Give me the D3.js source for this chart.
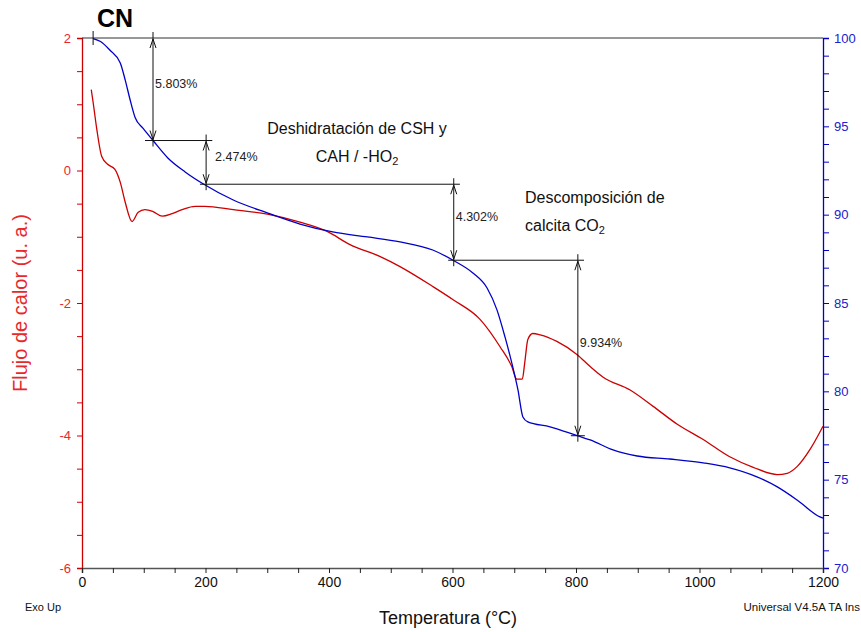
<!DOCTYPE html>
<html>
<head>
<meta charset="utf-8">
<script src="https://cdn.jsdelivr.net/npm/d3@7"></script>
<style>
  body { margin: 0; background: #fff; }
  svg text { font-family: "Liberation Sans", Arial, sans-serif; }
</style>
</head>
<body>
<svg id="chart" width="861" height="632"></svg>
<script>
// TGA curve (mass %, right axis)
const tgaTemp = [18, 30, 45, 62, 70, 78, 86, 99, 115, 139, 167, 196, 245, 300, 353, 406, 462, 515, 568, 601,
    633, 656, 672, 685, 696, 706, 714, 722, 758, 802, 823, 860, 899, 952, 1006, 1049, 1093, 1126, 1158, 1195, 1200];
const tgaMass = [99.97, 99.8, 99.32, 98.59, 97.62, 96.49, 95.5, 94.88, 94.2, 93.21, 92.42, 91.75, 90.83, 90.10, 89.47, 89.02, 88.74, 88.46, 88.00, 87.42,
    86.70, 85.85, 84.61, 83.08, 81.61, 80.08, 78.55, 78.27, 77.99, 77.49, 77.25, 76.68, 76.34, 76.17, 75.95, 75.67, 75.16, 74.59, 73.85, 72.89, 72.82];

// DSC curve (heat flow, left axis)
const dscTemp = [15, 18, 24, 32, 42, 53, 62, 70, 81, 91, 102, 115, 130, 146, 162, 183, 199, 245, 300, 353, 397, 434, 483, 515,
    568, 601, 645, 677, 696, 704, 713, 717, 722, 730, 742, 769, 802, 823, 844, 887, 925, 964, 1006, 1049, 1087, 1126, 1142, 1158, 1179, 1200];
const dscFlow = [1.22, 1.03, 0.62, 0.21, 0.09, 0.02, -0.18, -0.48, -0.77, -0.63, -0.59, -0.62, -0.69, -0.65, -0.59, -0.54, -0.54, -0.59, -0.66, -0.78, -0.92, -1.12, -1.30, -1.45,
    -1.75, -1.95, -2.25, -2.66, -2.96, -3.15, -3.15, -2.90, -2.55, -2.46, -2.48, -2.58, -2.78, -2.96, -3.12, -3.31, -3.56, -3.83, -4.06, -4.32, -4.48, -4.59, -4.57, -4.47, -4.21, -3.86];

// step transitions (mass loss)
const stepTemp = [115, 201, 602, 803];
const stepTop = [100, 94.197, 91.723, 87.421];
const stepLoss = [5.803, 2.474, 4.302, 9.934];
const stepLineFrom = [18, 102, 191, 593];
const stepLineTo = [1200, 211, 612, 813];
const stepLabelDx = [2, 9, 2, 2];

const xTicks = d3.range(0, 1201, 50);
const flowTicks = d3.range(-6, 2.01, 0.5);
const massTicks = d3.range(70, 100.01, 1);

const red = "#cc0000", redText = "#e8282b", blue = "#0000c8", blueText = "#2020d0";

let svg = d3.select("#chart");

let x = d3.scaleLinear().domain([0, 1200]).range([82, 823]);
let yFlow = d3.scaleLinear().domain([-6, 2]).range([568, 38]);
let yMass = d3.scaleLinear().domain([70, 100]).range([568, 38]);

// axes
let leftAxis = svg.append("g")
    .attr("transform", "translate(82,0)")
    .call(d3.axisLeft(yFlow).tickValues(flowTicks).tickSize(5).tickPadding(6)
        .tickFormat(d => Number.isInteger(d / 2) ? String(d) : ""));
leftAxis.select(".domain").attr("stroke", red).attr("stroke-width", 1.3);
leftAxis.selectAll(".tick line").attr("stroke", red);
leftAxis.selectAll("text").attr("fill", redText).attr("font-size", 13).style("font-family", "Liberation Sans, Arial, sans-serif");

let rightAxis = svg.append("g")
    .attr("transform", "translate(823,0)")
    .call(d3.axisRight(yMass).tickValues(massTicks).tickSize(6).tickPadding(5)
        .tickFormat(d => d % 5 === 0 ? String(d) : ""));
rightAxis.select(".domain").attr("stroke", blue).attr("stroke-width", 1.3);
rightAxis.selectAll(".tick line").attr("stroke", blue);
rightAxis.selectAll("text").attr("fill", blueText).attr("font-size", 13).style("font-family", "Liberation Sans, Arial, sans-serif");

let bottomAxis = svg.append("g")
    .attr("transform", "translate(0,568)")
    .call(d3.axisBottom(x).tickValues(xTicks).tickSize(5).tickPadding(4)
        .tickFormat(d => d % 200 === 0 ? String(d) : ""));
bottomAxis.select(".domain").attr("stroke", "#555").attr("stroke-width", 1.6);
bottomAxis.selectAll(".tick line").attr("stroke", "#222");
bottomAxis.selectAll("text").attr("fill", "#111").attr("font-size", 14).style("font-family", "Liberation Sans, Arial, sans-serif");

// top frame line
svg.append("line")
    .attr("x1", x(0)).attr("x2", x(1200))
    .attr("y1", yMass(100)).attr("y2", yMass(100))
    .attr("stroke", "#333").attr("stroke-width", 1.2);

// curves
let dscLine = d3.line().x(d => x(d[0])).y(d => yFlow(d[1])).curve(d3.curveMonotoneX);
let tgaLine = d3.line().x(d => x(d[0])).y(d => yMass(d[1])).curve(d3.curveMonotoneX);

svg.append("path")
    .datum(d3.zip(dscTemp, dscFlow))
    .attr("fill", "none").attr("stroke", red).attr("stroke-width", 1.3)
    .attr("d", dscLine);

svg.append("path")
    .datum(d3.zip(tgaTemp, tgaMass))
    .attr("fill", "none").attr("stroke", blue).attr("stroke-width", 1.3)
    .attr("d", tgaLine);

// step annotations
let steps = stepTemp.map((t, i) => ({
    t: t, top: stepTop[i], bottom: stepTop[i] - stepLoss[i], loss: stepLoss[i],
    from: stepLineFrom[i], to: stepLineTo[i], dx: stepLabelDx[i]
}));

let ann = svg.append("g").attr("stroke", "#111").attr("stroke-width", 1).attr("fill", "none");

// start marker
ann.append("line")
    .attr("x1", x(tgaTemp[0])).attr("x2", x(tgaTemp[0]))
    .attr("y1", yMass(100) - 7).attr("y2", yMass(100) + 7);

steps.forEach((s, i) => {
    if (i > 0) {
        ann.append("line")
            .attr("x1", x(s.from)).attr("x2", x(s.to))
            .attr("y1", yMass(s.top)).attr("y2", yMass(s.top));
    }
    let xs = x(s.t), y0 = yMass(s.top), y1 = yMass(s.bottom);
    ann.append("line").attr("x1", xs).attr("x2", xs).attr("y1", y0 - 6).attr("y2", y1 + 6);
    ann.append("path").attr("d", `M${xs - 3},${y0 + 10}L${xs},${y0 + 1}L${xs + 3},${y0 + 10}`);
    ann.append("path").attr("d", `M${xs - 3},${y1 - 10}L${xs},${y1 - 1}L${xs + 3},${y1 - 10}`);
    svg.append("text")
        .attr("x", xs + s.dx).attr("y", (y0 + y1) / 2 - 1)
        .attr("font-size", 12.5).attr("fill", "#222")
        .text(s.loss.toFixed(3) + "%");
});

// last step bottom bar
let last = steps[steps.length - 1];
ann.append("line")
    .attr("x1", x(last.t) - 7).attr("x2", x(last.t) + 7)
    .attr("y1", yMass(last.bottom)).attr("y2", yMass(last.bottom));

// descriptive notes
svg.append("text").attr("x", 357).attr("y", 134).attr("text-anchor", "middle")
    .attr("font-size", 16).attr("fill", "#111").text("Deshidratación de CSH y");
let t2 = svg.append("text").attr("x", 357).attr("y", 162).attr("text-anchor", "middle")
    .attr("font-size", 16).attr("fill", "#111");
t2.append("tspan").text("CAH / -HO");
t2.append("tspan").attr("font-size", 11).attr("dy", 3).text("2");

svg.append("text").attr("x", 525).attr("y", 203)
    .attr("font-size", 16).attr("fill", "#111").text("Descomposición de");
let t4 = svg.append("text").attr("x", 525).attr("y", 231)
    .attr("font-size", 16).attr("fill", "#111");
t4.append("tspan").text("calcita CO");
t4.append("tspan").attr("font-size", 11).attr("dy", 3).text("2");

// titles
svg.append("text").attr("x", 97).attr("y", 27)
    .attr("font-size", 25).attr("font-weight", "bold").attr("fill", "#000").text("CN");

svg.append("text")
    .attr("transform", "translate(27,303) rotate(-90)")
    .attr("text-anchor", "middle").attr("font-size", 20).attr("fill", redText)
    .text("Flujo de calor (u. a.)");

svg.append("text").attr("x", 448).attr("y", 624).attr("text-anchor", "middle")
    .attr("font-size", 18).attr("fill", "#111").text("Temperatura (°C)");

svg.append("text").attr("x", 25).attr("y", 611)
    .attr("font-size", 11).attr("fill", "#111").text("Exo Up");

svg.append("text").attr("x", 860).attr("y", 611).attr("text-anchor", "end")
    .attr("font-size", 11.5).attr("fill", "#111").text("Universal V4.5A TA Ins");
</script>
</body>
</html>
